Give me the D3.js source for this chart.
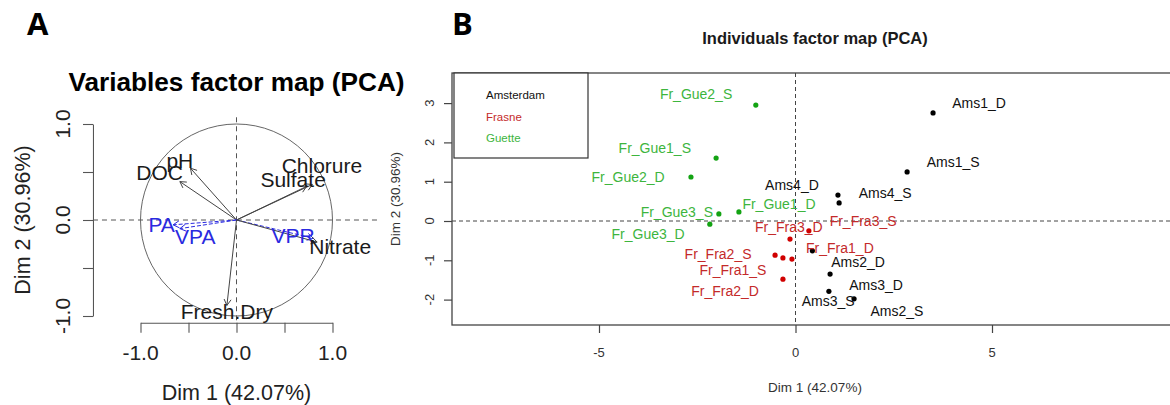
<!DOCTYPE html>
<html><head><meta charset="utf-8">
<script src="https://cdn.jsdelivr.net/npm/d3@7"></script>
<style>body{margin:0;background:#fff}svg{display:block;font-family:"Liberation Sans",Arial,sans-serif}</style>
</head><body><svg id="c" width="1170" height="405"></svg>
<script>
// ---------- Panel A: variables factor map ----------
const varNames = ["pH","DOC","Chlorure","Sulfate","PA","VPA","VPR","Nitrate","Fresh.Dry"];
const varDim1 = [-0.48,-0.59,0.79,0.73,-0.66,-0.59,0.80,0.84,-0.10];
const varDim2 = [0.54,0.40,0.37,0.35,-0.05,-0.09,-0.19,-0.23,-0.89];
const varSupp = [false,false,false,false,true,true,true,false,false];
const varLabelDim1 = [-0.59,-0.80,0.89,0.59,-0.78,-0.43,0.59,1.08,-0.10];
const varLabelDim2 = [0.625,0.49,0.57,0.42,-0.05,-0.17,-0.16,-0.28,-0.95];
const varTicks = [-1,-0.5,0,0.5,1];
const varTickLabels = ["-1.0","","0.0","","1.0"];
const varTitle = "Variables factor map (PCA)";
const dim1Label = "Dim 1 (42.07%)";
const dim2Label = "Dim 2 (30.96%)";

// ---------- Panel B: individuals factor map ----------
const groups = ["Amsterdam","Frasne","Guette"];
const groupText = ["#111111","#c42a2a","#3db53d"];
const groupDot = ["#000000","#d00000","#13a313"];
const indNames = ["Ams1_D","Ams1_S","Ams4_D","Ams4_S","Ams2_D","Ams3_D","Ams3_S","Ams2_S",
  "Fr_Fra3_S","Fr_Fra3_D","Fr_Fra2_S","Fr_Fra1_S","Fr_Fra1_D","Fr_Fra2_D",
  "Fr_Gue2_S","Fr_Gue1_S","Fr_Gue2_D","Fr_Gue3_S","Fr_Gue1_D","Fr_Gue3_D"];
const indGroup = [0,0,0,0,0,0,0,0, 1,1,1,1,1,1, 2,2,2,2,2,2];
const indDim1 = [3.50,2.84,1.08,1.11,0.43,0.88,0.85,1.49, 0.34,-0.14,-0.52,-0.32,-0.09,-0.32, -1.01,-2.02,-2.66,-1.95,-1.44,-2.18];
const indDim2 = [2.75,1.25,0.66,0.46,-0.76,-1.35,-1.79,-1.98, -0.25,-0.46,-0.87,-0.94,-0.97,-1.48, 2.95,1.60,1.12,0.18,0.23,-0.08];
const indLabelDim1 = [4.67,4.01,-0.09,2.28,1.59,2.05,0.83,2.58, 1.72,-0.17,-1.97,-1.59,1.13,-1.79, -2.53,-3.58,-4.26,-3.02,-0.42,-3.75];
const indLabelDim2 = [3.00,1.50,0.92,0.71,-1.04,-1.63,-2.04,-2.29, 0.00,-0.15,-0.84,-1.25,-0.69,-1.78, 3.23,1.86,1.12,0.23,0.43,-0.33];
const indTicksX = [-5,0,5];
const indTicksY = [-2,-1,0,1,2,3];
const indTitle = "Individuals factor map (PCA)";

const svg = d3.select("#c");

// ===== Panel A =====
const xA = d3.scaleLinear().domain([-1,1]).range([140.5,332.5]);
const yA = d3.scaleLinear().domain([-1,1]).range([316,124]);
const A = svg.append("g");
A.append("text").attr("x",27).attr("y",35).attr("font-size",31).attr("font-weight","bold").attr("font-family","'Open Sans',sans-serif").text("A");
A.append("text").attr("x",xA(0)).attr("y",91).attr("text-anchor","middle").attr("font-size",26.2).attr("font-weight","bold").text(varTitle);

// dashed reference lines
A.append("line").attr("x1",xA(-1.495)).attr("x2",xA(1.5)).attr("y1",yA(0)).attr("y2",yA(0))
  .attr("stroke","#555").attr("stroke-dasharray","5,4");
A.append("line").attr("x1",xA(0)).attr("x2",xA(0)).attr("y1",yA(1.07)).attr("y2",yA(-1.07))
  .attr("stroke","#555").attr("stroke-dasharray","5,4");
// circle
A.append("circle").attr("cx",xA(0)).attr("cy",yA(0)).attr("r",xA(1)-xA(0))
  .attr("fill","none").attr("stroke","#666").attr("stroke-width",1);

// axes
const axLA = A.append("g").attr("transform",`translate(${xA(-1.495)},0)`)
  .call(d3.axisLeft(yA).tickValues(varTicks).tickSize(10).tickSizeOuter(0).tickFormat(""));
const axBA = A.append("g").attr("transform",`translate(0,${yA(-1.07)})`)
  .call(d3.axisBottom(xA).tickValues(varTicks).tickSize(10).tickSizeOuter(0).tickFormat(""));
[axLA,axBA].forEach(g=>{g.selectAll("path,line").attr("stroke","#555").attr("stroke-width",1.1);});
varTicks.forEach((t,i)=>{
  if(!varTickLabels[i]) return;
  A.append("text").attr("transform",`translate(${xA(-1.495)-30},${yA(t)}) rotate(-90)`)
    .attr("text-anchor","middle").attr("dominant-baseline","central").attr("font-size",21).attr("fill","#222").text(varTickLabels[i]);
  A.append("text").attr("x",xA(t)).attr("y",yA(-1.07)+30).attr("text-anchor","middle")
    .attr("dominant-baseline","central").attr("font-size",21).attr("fill","#222").text(varTickLabels[i]);
});
A.append("text").attr("x",xA(0)).attr("y",393).attr("text-anchor","middle").attr("dominant-baseline","central")
  .attr("font-size",21.5).attr("fill","#222").text(dim1Label);
A.append("text").attr("transform",`translate(23,${yA(0)}) rotate(-90)`).attr("text-anchor","middle")
  .attr("dominant-baseline","central").attr("font-size",21.5).attr("fill","#222").text(dim2Label);

// arrows
varNames.forEach((n,i)=>{
  const x0=xA(0), y0=yA(0), x1=xA(varDim1[i]), y1=yA(varDim2[i]);
  const col = varSupp[i] ? "#2a2ae0" : "#444";
  const g = A.append("g").attr("stroke",col).attr("stroke-width",1).attr("fill","none");
  g.append("line").attr("x1",x0).attr("y1",y0).attr("x2",x1).attr("y2",y1)
    .attr("stroke-dasharray",varSupp[i]?"4,2":null);
  const ang = Math.atan2(y1-y0,x1-x0), L=7;
  [Math.PI/6,-Math.PI/6].forEach(a=>{
    g.append("line").attr("x1",x1).attr("y1",y1)
      .attr("x2",x1-L*Math.cos(ang+a)).attr("y2",y1-L*Math.sin(ang+a));
  });
});
varNames.forEach((n,i)=>{
  A.append("text").attr("x",xA(varLabelDim1[i])).attr("y",yA(varLabelDim2[i]))
    .attr("text-anchor","middle").attr("dominant-baseline","central").attr("font-size",21)
    .attr("fill",varSupp[i]?"#2a2ae0":"#1a1a1a").text(n);
});

// ===== Panel B =====
const xB = d3.scaleLinear().domain([-5,5]).range([599,992]);
const yB = d3.scaleLinear().domain([-2,3]).range([299.6,103.1]);
const xMinB = xB.invert(452), xMaxB = xB.invert(1178), yMinB = yB.invert(325), yMaxB = yB.invert(73);
const B = svg.append("g");
B.append("text").attr("x",452).attr("y",35).attr("font-size",31).attr("font-weight","bold").attr("font-family","'Open Sans',sans-serif").text("B");
B.append("text").attr("x",815).attr("y",44).attr("text-anchor","middle").attr("font-size",16.5)
  .attr("font-weight","bold").attr("fill","#1a1a1a").text(indTitle);

// dashed zero lines
B.append("line").attr("x1",xB(xMinB)).attr("x2",xB(xMaxB)).attr("y1",yB(0)).attr("y2",yB(0))
  .attr("stroke","#444").attr("stroke-dasharray","4,3");
B.append("line").attr("x1",xB(0)).attr("x2",xB(0)).attr("y1",yB(yMaxB)).attr("y2",yB(yMinB))
  .attr("stroke","#444").attr("stroke-dasharray","4,3");

// axes
const axLB = B.append("g").attr("transform",`translate(${xB(xMinB)},0)`)
  .call(d3.axisLeft(yB).tickValues(indTicksY).tickSize(8).tickSizeOuter(0).tickFormat(""));
const axBB = B.append("g").attr("transform",`translate(0,${yB(yMinB)})`)
  .call(d3.axisBottom(xB).tickValues(indTicksX).tickSize(8).tickSizeOuter(0).tickFormat(""));
[axLB,axBB].forEach(g=>{g.select("path").remove(); g.selectAll("line").attr("stroke","#444").attr("stroke-width",1.2);});
indTicksY.forEach(t=>{
  B.append("text").attr("transform",`translate(429,${yB(t)}) rotate(-90)`).attr("text-anchor","middle")
    .attr("dominant-baseline","central").attr("font-size",13).attr("fill","#333").text(t);
});
indTicksX.forEach(t=>{
  B.append("text").attr("x",xB(t)).attr("y",352).attr("text-anchor","middle")
    .attr("dominant-baseline","central").attr("font-size",13).attr("fill","#333").text(t);
});
B.append("text").attr("x",815).attr("y",387).attr("text-anchor","middle").attr("dominant-baseline","central")
  .attr("font-size",13.5).attr("fill","#333").text(dim1Label);
B.append("text").attr("transform",`translate(395,199) rotate(-90)`).attr("text-anchor","middle")
  .attr("dominant-baseline","central").attr("font-size",13.5).attr("fill","#333").text(dim2Label);

// box
B.append("rect").attr("x",xB(xMinB)).attr("y",yB(yMaxB)).attr("width",xB(xMaxB)-xB(xMinB))
  .attr("height",yB(yMinB)-yB(yMaxB)).attr("fill","none").attr("stroke","#444").attr("stroke-width",1.3);

// points & labels
indNames.forEach((n,i)=>{
  B.append("circle").attr("cx",xB(indDim1[i])).attr("cy",yB(indDim2[i])).attr("r",2.6)
    .attr("fill",groupDot[indGroup[i]]);
});
indNames.forEach((n,i)=>{
  B.append("text").attr("x",xB(indLabelDim1[i])).attr("y",yB(indLabelDim2[i]))
    .attr("text-anchor","middle").attr("dominant-baseline","central").attr("font-size",14)
    .attr("fill",groupText[indGroup[i]]).text(n);
});

// legend
B.append("rect").attr("x",454).attr("y",73).attr("width",134).attr("height",85)
  .attr("fill","#fff").attr("stroke","#333").attr("stroke-width",1.2);
groups.forEach((g,i)=>{
  B.append("text").attr("x",486).attr("y",95+i*21.5).attr("dominant-baseline","central")
    .attr("font-size",11.5).attr("fill",groupText[i]).text(g);
});
</script></body></html>
